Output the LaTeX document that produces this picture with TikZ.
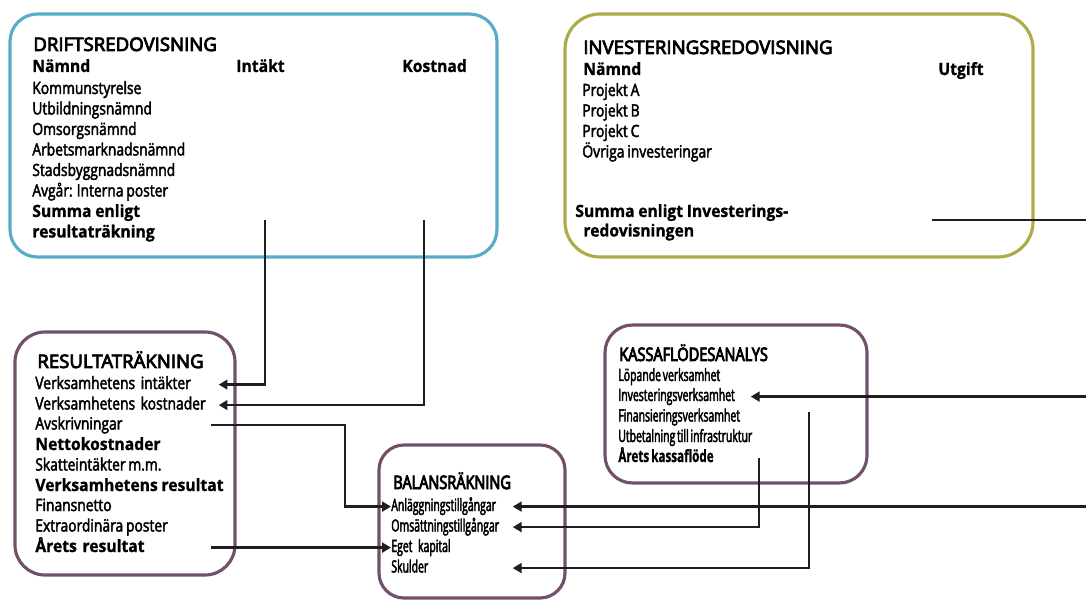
\documentclass[tikz,border=0pt]{standalone}
\usepackage{fontspec}
\setmainfont{Open Sans}[FakeBold=4.5]
\newfontfamily\bodyfont{Open Sans}[FakeStretch=0.82,FakeBold=2.5,WordSpace=0.8]
\newfontfamily\strongfont{Open Sans}[FakeStretch=0.93,FakeBold=1,WordSpace=0.9]
\newfontfamily\slimfont{Open Sans}[FakeStretch=0.62,FakeBold=2.5,WordSpace=0.65]
\newfontfamily\slimstrongfont{Open Sans}[FakeStretch=0.69,FakeBold=1,WordSpace=0.7]
\newfontfamily\slimtitlefont{Open Sans}[FakeStretch=0.78,FakeBold=4.5]
\usetikzlibrary{arrows.meta,backgrounds}
\definecolor{driftblue}{RGB}{88,172,200}
\definecolor{investolive}{RGB}{172,172,72}
\definecolor{statplum}{RGB}{114,80,106}
\definecolor{linkgray}{RGB}{30,30,30}

\begin{document}
\begin{tikzpicture}[
  box/.style={draw, line width=1.8pt, fill=white, inner sep=0pt},
  ttl/.style={anchor=base west, inner sep=0pt, font=\fontsize{10.6}{12}\selectfont},
  slimttl/.style={ttl, font=\slimtitlefont\fontsize{10.6}{12}\selectfont},
  hdr/.style={anchor=base west, inner sep=0pt, font=\strongfont\bfseries\fontsize{9.6}{11}\selectfont},
  row/.style={anchor=base west, inner sep=0pt, text height=7pt, text depth=2pt, align=left, font=\bodyfont\fontsize{9.6}{11}\selectfont},
  boldrow/.style={row, font=\strongfont\bfseries\fontsize{9.6}{11}\selectfont},
  slimrow/.style={row, font=\slimfont\fontsize{9.6}{11}\selectfont},
  slimboldrow/.style={row, font=\slimstrongfont\bfseries\fontsize{9.6}{11}\selectfont},
  link/.style={line width=1.3pt, draw=linkgray},
  arr/.style={link, -{Triangle[length=5pt,width=5.5pt]}},
]
\useasboundingbox (0,0) rectangle (21.72,11.98);

% --- Driftsredovisning ---
\node[ttl] (dTitle) at (0.66,10.96) {DRIFTSREDOVISNING};
\node[hdr] (dNamnd) at (0.64,10.54) {Nämnd};
\node[hdr] (dIntakt) at (4.72,10.54) {Intäkt};
\node[hdr] (dKostnad) at (8.04,10.54) {Kostnad};
\node[row] (dKs) at (0.64,10.10) {Kommunstyrelse};
\node[row] (dUtb) at (0.64,9.69) {Utbildningsnämnd};
\node[row] (dOms) at (0.64,9.28) {Omsorgsnämnd};
\node[row] (dArb) at (0.64,8.87) {Arbetsmarknadsnämnd};
\node[row] (dSta) at (0.64,8.46) {Stadsbyggnadsnämnd};
\node[row] (dAvg) at (0.64,8.05) {Avgår: Interna poster};
\node[boldrow] (dSumma) at (0.64,7.64) {Summa enligt};
\node[boldrow] (dSumma2) at (0.64,7.23) {resultaträkning};

% --- Investeringsredovisning ---
\node[ttl] (iTitle) at (11.66,10.90) {INVESTERINGSREDOVISNING};
\node[hdr] (iNamnd) at (11.66,10.48) {Nämnd};
\node[hdr] (iUtgift) at (18.76,10.48) {Utgift};
\node[row] (iProjA) at (11.64,10.06) {Projekt A};
\node[row] (iProjB) at (11.64,9.65) {Projekt B};
\node[row] (iProjC) at (11.64,9.24) {Projekt C};
\node[row] (iOvr) at (11.64,8.83) {Övriga investeringar};
\node[boldrow] (iSumma) at (11.50,7.64) {Summa enligt Investerings-};
\node[boldrow] (iSumma2) at (11.66,7.25) {redovisningen};

% --- Resultaträkning ---
\node[ttl] (rTitle) at (0.74,4.62) {RESULTATRÄKNING};
\node[row, text width=3.66cm] (rIntakter) at (0.70,4.20) {Verksamhetens intäkter};
\node[row, text width=3.66cm] (rKostnader) at (0.70,3.79) {Verksamhetens kostnader};
\node[row, text width=3.66cm] (rAvskr) at (0.70,3.39) {Avskrivningar};
\node[boldrow] (rNetto) at (0.70,2.98) {Nettokostnader};
\node[row] (rSkatt) at (0.70,2.57) {Skatteintäkter m.m.};
\node[boldrow] (rVerkRes) at (0.70,2.16) {Verksamhetens resultat};
\node[row] (rFinans) at (0.70,1.76) {Finansnetto};
\node[row] (rExtra) at (0.70,1.35) {Extraordinära poster};
\node[boldrow, text width=3.66cm] (rArets) at (0.70,0.94) {Årets resultat};

% --- Balansräkning ---
\node[slimttl] (bTitle) at (7.86,2.20) {BALANSRÄKNING};
\node[slimrow, text width=2.42cm] (bAnl) at (7.82,1.76) {Anläggningstillgångar};
\node[slimrow, text width=2.42cm] (bOms) at (7.82,1.35) {Omsättningstillgångar};
\node[slimrow, text width=2.42cm] (bEget) at (7.82,0.94) {Eget kapital};
\node[slimrow, text width=2.42cm] (bSkulder) at (7.82,0.53) {Skulder};

% --- Kassaflödesanalys ---
\node[slimttl] (kTitle) at (12.38,4.76) {KASSAFLÖDESANALYS};
\node[slimrow] (kLop) at (12.36,4.36) {Löpande verksamhet};
\node[slimrow, text width=2.64cm] (kInvest) at (12.36,3.96) {Investeringsverksamhet};
\node[slimrow] (kFinans) at (12.36,3.55) {Finansieringsverksamhet};
\node[slimrow] (kUtbet) at (12.36,3.14) {Utbetalning till infrastruktur};
\node[slimboldrow] (kArets) at (12.36,2.74) {Årets kassaflöde};

% --- Boxes ---
\begin{scope}[on background layer]
  \node[box, draw=driftblue, rounded corners=0.55cm, minimum width=9.74cm, minimum height=4.86cm] (drift) at (5.07,9.27) {};
  \node[box, draw=investolive, rounded corners=0.7cm, minimum width=9.36cm, minimum height=4.86cm] (invest) at (15.98,9.27) {};
  \node[box, draw=statplum, rounded corners=0.6cm, minimum width=4.4cm, minimum height=4.86cm] (resultat) at (2.5,2.91) {};
  \node[box, draw=statplum, rounded corners=0.5cm, minimum width=3.72cm, minimum height=3.06cm] (balans) at (9.44,1.55) {};
  \node[box, draw=statplum, rounded corners=0.55cm, minimum width=5.24cm, minimum height=3.16cm] (kassa) at (14.72,3.9) {};
\end{scope}

% --- Connectors ---
\coordinate (rightEdge) at (21.8,0);
\coordinate (dIntOut) at (5.30,7.58);
\coordinate (dKostOut) at (8.48,7.58);
\coordinate (avBend) at (7.06,0);
\coordinate (iOut) at (18.64,7.58);
\coordinate (kAretsOut) at (15.18,2.82);
\coordinate (kSkulOut) at (16.18,3.74);

\draw[arr] (dIntOut) |- (rIntakter.east);
\draw[arr] (dKostOut) |- (rKostnader.east);
\draw[arr] ([xshift=-0.16cm]rAvskr.east) -- ([xshift=-0.16cm]rAvskr.east -| avBend) |- (bAnl.west);
\draw[arr] ([xshift=-0.16cm]rArets.east) -- (bEget.west);
\draw[link] (iOut) -- (iOut -| rightEdge);
\draw[arr] (kInvest.east -| rightEdge) -- (kInvest.east);
\draw[arr] (bAnl.east -| rightEdge) -- (bAnl.east);
\draw[arr] (kAretsOut) |- (bOms.east);
\draw[arr] (kSkulOut) |- (bSkulder.east);
\end{tikzpicture}
\end{document}
